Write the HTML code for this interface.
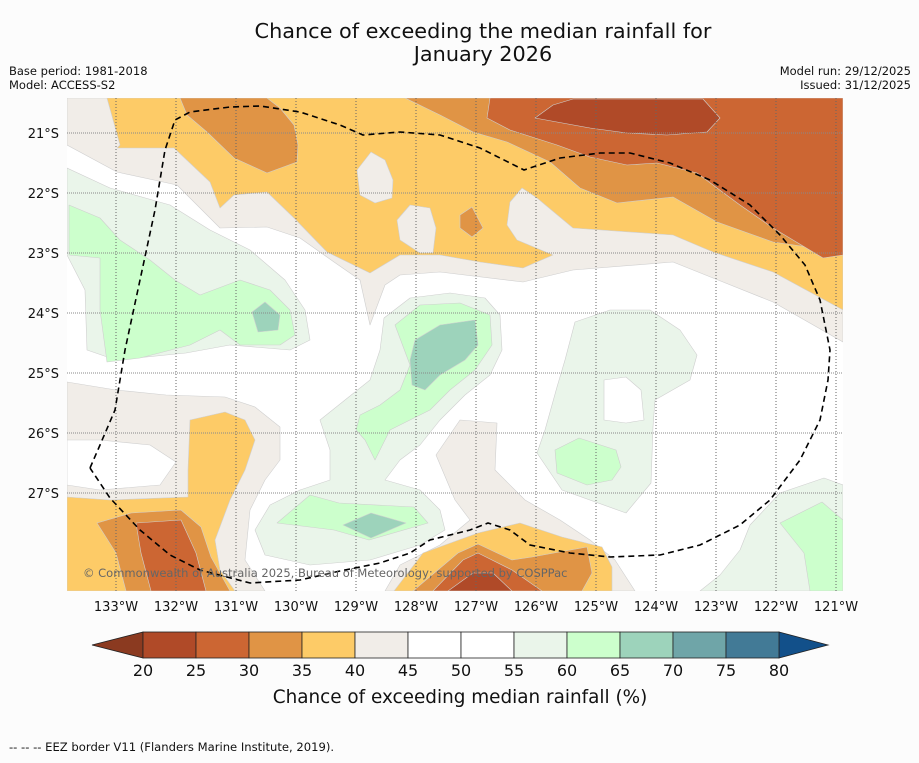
<!DOCTYPE html>
<html><head><meta charset="utf-8"><style>
body{margin:0;background:#fcfcfc;}
svg text{font-family:"DejaVu Sans","Liberation Sans",sans-serif;}
</style></head><body>
<svg id="chart" width="919" height="758" viewBox="0 0 919 758" xmlns="http://www.w3.org/2000/svg">
<rect width="919" height="758" fill="#fcfcfc"/>
<text x="483" y="38" font-size="20.8" text-anchor="middle" fill="#111">Chance of exceeding the median rainfall for</text>
<text x="483" y="61" font-size="20.8" text-anchor="middle" fill="#111">January 2026</text>
<text x="9" y="75" font-size="11.5" fill="#111">Base period: 1981-2018</text>
<text x="9" y="89" font-size="11.5" fill="#111">Model: ACCESS-S2</text>
<text x="911" y="75" font-size="11.5" text-anchor="end" fill="#111">Model run: 29/12/2025</text>
<text x="911" y="89" font-size="11.5" text-anchor="end" fill="#111">Issued: 31/12/2025</text>
<defs><clipPath id="mapclip"><rect x="67" y="98" width="776" height="493"/></clipPath></defs>
<g id="map" clip-path="url(#mapclip)"></g>
<g id="overlay"></g>
<g id="cbar"></g>
<text x="460" y="703" font-size="18.4" text-anchor="middle" fill="#111">Chance of exceeding median rainfall (%)</text>
<text x="9" y="751" font-size="11.6" fill="#111">--  --  -- EEZ border V11 (Flanders Marine Institute, 2019).</text>
</svg>
<script>
// Geographic data in arc-minutes east / south of 134°W, 20°S
const lonTicks = [133,132,131,130,129,128,127,126,125,124,123,122,121];
const latTicks = [21,22,23,24,25,26,27];
const cbLevels = [20,25,30,35,40,45,50,55,60,65,70,75,80];
const cbColors = ["#b04a28","#cc6633","#e09445","#fdcb67","#f1ede8","#ffffff","#ffffff","#eaf5ea","#ccffcc","#9dd3bb","#6fa5a8","#427a96"];
const regions = [
 {lvl:40, pts:[[11,25],[11,72],[61,99],[121,112],[164,155],[211,154],[244,165],[278,189],[304,207],[314,252],[329,212],[344,202],[384,199],[467,209],[517,197],[617,189],[667,209],[717,229],[787,269],[787,25]]},
 {lvl:35, pts:[[51,25],[64,72],[61,75],[118,75],[154,109],[164,135],[178,122],[211,119],[238,145],[271,179],[314,200],[344,182],[384,182],[424,189],[467,195],[497,182],[461,167],[451,152],[454,129],[466,115],[481,125],[517,155],[617,162],[657,179],[717,199],[787,237],[787,25]]},
 {lvl:40, pts:[[315,79],[329,87],[337,107],[336,125],[319,130],[304,122],[301,97]]},
 {lvl:40, pts:[[354,132],[374,135],[380,155],[377,180],[364,180],[344,167],[341,147]]},
 {lvl:30, pts:[[124,25],[131,42],[151,59],[178,85],[211,100],[241,89],[242,72],[238,52],[224,35],[211,25]]},
 {lvl:30, pts:[[349,25],[384,42],[417,59],[451,69],[494,89],[524,115],[561,130],[617,124],[661,149],[717,169],[787,179],[787,25]]},
 {lvl:30, pts:[[404,142],[416,134],[427,155],[416,164],[404,155]]},
 {lvl:25, pts:[[434,25],[431,45],[454,57],[501,72],[534,84],[571,92],[601,90],[641,100],[661,115],[684,132],[717,155],[767,185],[787,182],[787,25]]},
 {lvl:20, pts:[[479,45],[497,32],[517,26],[647,26],[664,45],[651,59],[611,62],[571,60],[534,55]]},
 {lvl:40, pts:[[11,309],[60,317],[110,322],[169,324],[199,334],[224,354],[224,387],[209,407],[194,437],[189,487],[209,518],[11,518]]},
 {lvl:45, pts:[[11,367],[44,367],[94,372],[120,389],[104,412],[44,417],[11,412]]},
 {lvl:35, pts:[[11,424],[54,427],[132,424],[132,397],[134,347],[169,339],[189,347],[199,367],[189,397],[174,427],[159,467],[164,497],[179,518],[11,518]]},
 {lvl:30, pts:[[41,450],[75,440],[125,437],[145,454],[155,484],[174,518],[70,518],[60,480]]},
 {lvl:25, pts:[[80,450],[125,447],[140,480],[150,518],[95,518],[85,480]]},
 {lvl:40, pts:[[380,382],[404,347],[441,350],[439,397],[469,427],[504,447],[534,467],[559,487],[579,518],[329,518],[344,492],[384,472],[414,447],[399,427]]},
 {lvl:35, pts:[[338,518],[367,480],[422,460],[464,450],[506,464],[546,474],[556,494],[556,518]]},
 {lvl:30, pts:[[357,518],[402,480],[422,471],[456,487],[476,484],[531,474],[536,500],[526,518]]},
 {lvl:25, pts:[[377,518],[407,487],[422,480],[456,497],[486,518]]},
 {lvl:20, pts:[[392,518],[417,500],[437,500],[456,518]]},
 {lvl:55, pts:[[11,95],[54,115],[114,132],[154,157],[194,177],[229,207],[249,237],[254,267],[234,277],[174,272],[130,280],[60,287],[31,277],[29,217],[11,182]]},
 {lvl:60, pts:[[13,132],[44,145],[64,167],[94,187],[119,207],[144,222],[184,207],[214,217],[234,237],[239,262],[224,272],[184,272],[164,257],[134,272],[84,285],[51,289],[44,237],[44,185],[13,182]]},
 {lvl:65, pts:[[196,239],[209,229],[224,242],[222,257],[202,259]]},
 {lvl:55, pts:[[328,245],[354,225],[394,220],[429,225],[444,242],[446,277],[434,302],[409,322],[384,347],[364,372],[344,387],[329,407],[364,417],[384,437],[389,457],[364,472],[314,487],[254,492],[209,482],[199,457],[214,432],[244,417],[274,407],[274,377],[264,347],[289,327],[314,307],[324,277]]},
 {lvl:60, pts:[[339,252],[364,232],[404,230],[434,242],[436,272],[419,297],[394,317],[374,337],[354,347],[334,357],[319,387],[309,367],[300,357],[304,342],[324,332],[344,317],[354,292]]},
 {lvl:65, pts:[[359,267],[384,252],[419,247],[422,272],[409,287],[384,302],[369,317],[356,312],[354,287]]},
 {lvl:60, pts:[[221,450],[254,422],[283,430],[358,434],[372,450],[313,467],[278,457]]},
 {lvl:65, pts:[[287,452],[315,440],[350,450],[315,465]]},
 {lvl:55, pts:[[519,249],[554,237],[594,237],[624,257],[641,282],[634,307],[599,327],[597,354],[595,410],[570,440],[506,417],[481,380],[489,357],[501,314],[509,287]]},
 {lvl:45, pts:[[548,307],[570,304],[585,317],[588,347],[570,350],[548,347]]},
 {lvl:60, pts:[[499,377],[523,365],[560,377],[565,394],[556,407],[531,412],[501,400]]},
 {lvl:55, pts:[[644,518],[664,502],[684,477],[694,452],[724,420],[768,405],[787,412],[787,518]]},
 {lvl:60, pts:[[724,450],[766,429],[787,447],[787,518],[754,518],[748,480]]}
];
const eez = [[34,395],[44,372],[59,337],[69,277],[84,207],[99,137],[109,77],[119,47],[134,39],[174,34],[204,33],[244,39],[284,52],[307,62],[344,59],[384,62],[424,75],[468,97],[504,85],[544,80],[574,80],[614,90],[654,107],[694,132],[724,162],[749,192],[764,227],[774,277],[772,307],[764,347],[744,387],[714,427],[684,452],[644,472],[604,482],[554,484],[514,480],[474,472],[454,457],[432,450],[414,457],[374,467],[354,480],[324,490],[284,498],[244,507],[194,510],[144,497],[114,482],[84,457],[54,425],[34,395]];

const NS="http://www.w3.org/2000/svg";
const X0=56, Y0=73, PPM=1; // pixel of 134W,20S; pixels per arc-minute
function xm(m){return X0+m*PPM;}
function ym(m){return Y0+m*PPM;}
function xLon(lonW){return xm((134-lonW)*60);}
function yLat(latS){return ym((latS-20)*60);}
function colorFor(l){const i=cbLevels.indexOf(l);return cbColors[i];}
function mk(tag,attrs,parent){const e=document.createElementNS(NS,tag);for(const k in attrs)e.setAttribute(k,attrs[k]);parent.appendChild(e);return e;}

const map=document.getElementById('map');
const bg=mk('rect',{x:67,y:98,width:776,height:493,fill:'#ffffff'},map);


regions.forEach((r,i)=>{
  const p=mk('polygon',{points:r.pts.map(q=>xm(q[0])+','+ym(q[1])).join(' '),fill:colorFor(r.lvl),stroke:'#cfcfcf','stroke-width':0.6,'stroke-linejoin':'round'},map);
  
  
});
const ov=document.getElementById('overlay');
lonTicks.forEach(l=>{
  const g=mk('line',{x1:xLon(l),x2:xLon(l),y1:98,y2:591,stroke:'#666','stroke-width':1,'stroke-dasharray':'1,2'},ov);
  
  
  const t=mk('text',{x:xLon(l),y:611,'font-size':13,'text-anchor':'middle',fill:'#111'},ov);
  t.textContent=l+'°W';
  
  
});
latTicks.forEach(l=>{
  const g=mk('line',{x1:67,x2:843,y1:yLat(l),y2:yLat(l),stroke:'#888','stroke-width':1,'stroke-dasharray':'1,1'},ov);
  
  
  const t=mk('text',{x:59,y:yLat(l)+5,'font-size':13,'text-anchor':'end',fill:'#111'},ov);
  t.textContent=l+'°S';
  
  
});
const ez=mk('polyline',{points:eez.map(q=>xm(q[0])+','+ym(q[1])).join(' '),fill:'none',stroke:'#000','stroke-width':1.6,'stroke-dasharray':'6,4'},ov);


const cp=mk('text',{x:83,y:577,'font-size':11.5,fill:'#666'},ov);
cp.textContent='© Commonwealth of Australia 2025, Bureau of Meteorology; supported by COSPPac';



// colorbar
const cb=document.getElementById('cbar');
const CB0=143, CBW=53, CBY=632, CBH=26;
function xcb(v){return CB0+(v-20)/5*CBW;}
const lt=mk('polygon',{points:`92,${CBY+CBH/2} ${CB0},${CBY} ${CB0},${CBY+CBH}`,fill:'#8b3a20',stroke:'#222','stroke-width':0.8},cb);


const rt=mk('polygon',{points:`828,${CBY+CBH/2} ${xcb(80)},${CBY} ${xcb(80)},${CBY+CBH}`,fill:'#12508a',stroke:'#222','stroke-width':0.8},cb);


cbColors.forEach((c,i)=>{
  const r=mk('rect',{x:xcb(cbLevels[i]),y:CBY,width:CBW,height:CBH,fill:c,stroke:'#222','stroke-width':0.8},cb);
  
  
});
cbLevels.forEach(v=>{
  const t=mk('text',{x:xcb(v),y:676,'font-size':16,'text-anchor':'middle',fill:'#111'},cb);
  t.textContent=v;
  
  
});
</script>
</body></html>
